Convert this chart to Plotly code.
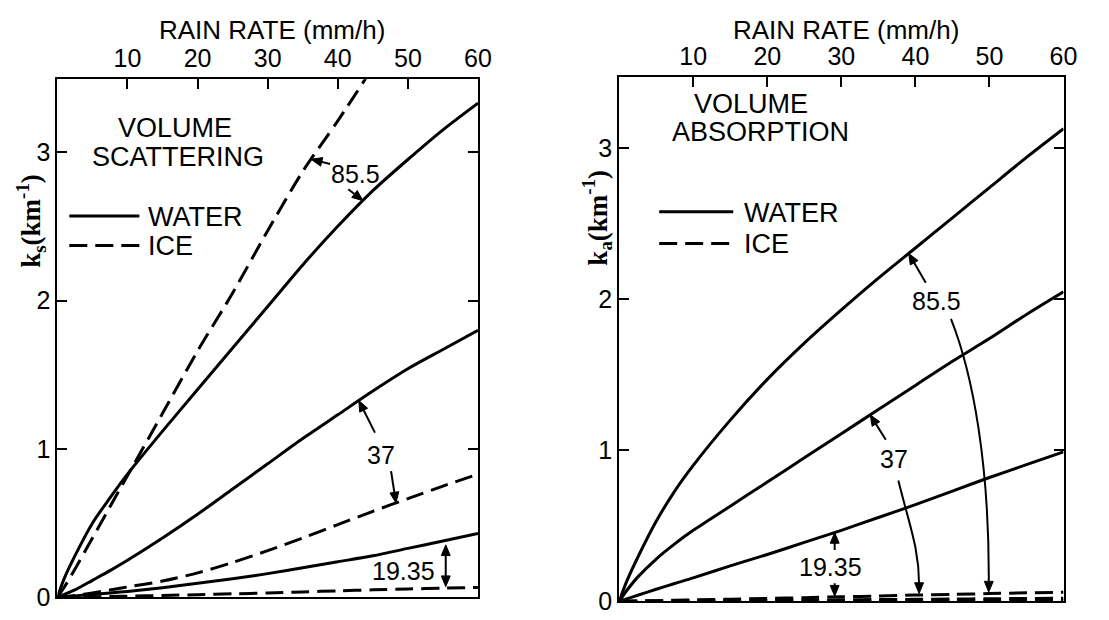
import plotly.graph_objects as go
import numpy as np

# ---------------- data ----------------
rain = [0, 1, 2.5, 5, 7.5, 10, 15, 20, 25, 30, 35, 40, 45, 50, 55, 60]
rain_ice_855 = [0, 1, 2.5, 5, 7.5, 10, 15, 20, 25, 30, 35, 40, 45]

# Volume scattering (km^-1)
sc_water_855 = [0, 0.13, 0.28, 0.50, 0.67, 0.83, 1.12, 1.40, 1.68, 1.96, 2.24, 2.50, 2.74, 2.95, 3.15, 3.33]
sc_ice_855 = [0, 0.07, 0.19, 0.40, 0.61, 0.82, 1.24, 1.66, 2.05, 2.47, 2.87, 3.21, 3.57]
sc_water_37 = [0, 0.02, 0.05, 0.115, 0.18, 0.25, 0.40, 0.56, 0.73, 0.90, 1.07, 1.23, 1.39, 1.54, 1.67, 1.80]
sc_ice_37 = [0, 0.005, 0.013, 0.03, 0.05, 0.07, 0.11, 0.165, 0.235, 0.315, 0.40, 0.49, 0.58, 0.665, 0.75, 0.83]
sc_water_19 = [0, 0.004, 0.01, 0.02, 0.03, 0.04, 0.065, 0.095, 0.125, 0.16, 0.20, 0.24, 0.28, 0.33, 0.38, 0.43]
sc_ice_19 = [0, 0.001, 0.002, 0.004, 0.006, 0.008, 0.013, 0.018, 0.024, 0.03, 0.037, 0.044, 0.051, 0.057, 0.062, 0.067]

# Volume absorption (km^-1)
ab_water_855 = [0, 0.13, 0.29, 0.53, 0.73, 0.90, 1.20, 1.47, 1.71, 1.93, 2.14, 2.34, 2.54, 2.74, 2.94, 3.13]
ab_water_37 = [0, 0.07, 0.16, 0.28, 0.38, 0.47, 0.63, 0.79, 0.95, 1.11, 1.27, 1.43, 1.59, 1.74, 1.90, 2.05]
ab_water_19 = [0, 0.016, 0.04, 0.08, 0.118, 0.155, 0.235, 0.31, 0.39, 0.47, 0.555, 0.64, 0.73, 0.82, 0.905, 0.99]
ab_ice_855 = [0, 0.001, 0.002, 0.004, 0.007, 0.009, 0.014, 0.019, 0.024, 0.03, 0.035, 0.041, 0.046, 0.051, 0.056, 0.06]
ab_ice_37 = [0, 0, 0.001, 0.002, 0.002, 0.003, 0.005, 0.006, 0.008, 0.01, 0.012, 0.013, 0.015, 0.017, 0.019, 0.02]
ab_ice_19 = [0, 0, 0, 0.001, 0.001, 0.001, 0.002, 0.002, 0.003, 0.003, 0.004, 0.004, 0.005, 0.005, 0.006, 0.006]

x_ticks = [10, 20, 30, 40, 50, 60]
y_ticks = [0, 1, 2, 3]
freq_labels = ["85.5", "37", "19.35"]

# ---------------- layout helpers ----------------
W, H = 1109, 620
FONT = "Liberation Sans, Arial, Helvetica, sans-serif"
SERIF = "Liberation Serif, Times New Roman, serif"
LW = 3
DASH = "18px,8px"

X_RANGE = [0, 60]
Y1_RANGE = [0, 3.49]
Y2_RANGE = [0, 3.47]
DOM = {  # pixel boxes of the two plot areas: left, right, top, bottom
    "1": (50, 476, 73, 603),
    "2": (619, 1069, 71, 607),
}


def px(x):
    return x / W


def py(y):
    return 1 - y / H


fig = go.Figure()


def add_line(xs, ys, dashed, xa, ya):
    fig.add_trace(go.Scatter(
        x=xs, y=ys, mode="lines", xaxis=xa, yaxis=ya, showlegend=False,
        line=dict(color="black", width=LW, dash=DASH if dashed else "solid",
                  shape="spline", smoothing=0.8),
        hoverinfo="skip"))


# left panel
add_line(rain, sc_water_855, False, "x", "y")
add_line(rain_ice_855, sc_ice_855, True, "x", "y")
add_line(rain, sc_water_37, False, "x", "y")
add_line(rain, sc_ice_37, True, "x", "y")
add_line(rain, sc_water_19, False, "x", "y")
add_line(rain, sc_ice_19, True, "x", "y")
# right panel
add_line(rain, ab_water_855, False, "x2", "y2")
add_line(rain, ab_water_37, False, "x2", "y2")
add_line(rain, ab_water_19, False, "x2", "y2")
add_line(rain, ab_ice_855, True, "x2", "y2")
add_line(rain, ab_ice_37, True, "x2", "y2")
add_line(rain, ab_ice_19, True, "x2", "y2")

axis_common_x = dict(
    side="top", range=X_RANGE, tickvals=x_ticks, ticks="inside", ticklen=10,
    tickwidth=2, tickcolor="black", showline=True, linewidth=2, linecolor="black",
    mirror=True, showgrid=False, zeroline=False,
    tickfont=dict(family=FONT, size=25, color="black"))
axis_common_y = dict(
    tickvals=y_ticks, ticks="inside", ticklen=10, tickwidth=2, tickcolor="black",
    showline=True, linewidth=2, linecolor="black", mirror="ticks",
    showgrid=False, zeroline=False,
    tickfont=dict(family=FONT, size=25, color="black"))

l1, r1, t1, b1 = DOM["1"]
l2, r2, t2, b2 = DOM["2"]
fig.update_layout(
    width=W, height=H, margin=dict(l=0, r=0, t=0, b=0),
    paper_bgcolor="white", plot_bgcolor="white",
    xaxis=dict(axis_common_x, domain=[px(l1), px(r1)], anchor="y"),
    yaxis=dict(axis_common_y, domain=[py(b1), py(t1)], range=Y1_RANGE, anchor="x"),
    xaxis2=dict(axis_common_x, domain=[px(l2), px(r2)], anchor="y2"),
    yaxis2=dict(axis_common_y, domain=[py(b2), py(t2)], range=Y2_RANGE, anchor="x2"),
)

ann = []
shapes = []


def scale(panel):
    l, r, t, b = DOM[panel]
    yr = Y1_RANGE if panel == "1" else Y2_RANGE
    return (r - l) / (X_RANGE[1] - X_RANGE[0]), (b - t) / (yr[1] - yr[0])


def refs(panel):
    return ("x", "y") if panel == "1" else ("x2", "y2")


def text(x, y, s, size=24, family=FONT, **kw):
    ann.append(dict(x=px(x), y=py(y), xref="paper", yref="paper", text=s,
                    showarrow=False, font=dict(family=family, size=size, color="black"),
                    xanchor=kw.pop("xanchor", "center"), yanchor="middle", **kw))


def dtext(panel, x, y, s, size=25, **kw):
    xa, ya = refs(panel)
    ann.append(dict(x=x, y=y, xref=xa, yref=ya, text=s, showarrow=False,
                    font=dict(family=FONT, size=size, color="black"),
                    xanchor=kw.pop("xanchor", "center"), yanchor="middle", **kw))


def dline(panel, x0, x1, y, dashed):
    xa, ya = refs(panel)
    shapes.append(dict(type="line", xref=xa, yref=ya, x0=x0, x1=x1, y0=y, y1=y,
                       line=dict(color="black", width=LW, dash=DASH if dashed else "solid")))


def head(panel, frm, tip, L=11, hw=4.5):
    """filled triangular arrow head at tip, pointing away from frm"""
    sx, sy = scale(panel)
    xa, ya = refs(panel)
    dx = (tip[0] - frm[0]) * sx
    dy = (tip[1] - frm[1]) * sy
    n = np.hypot(dx, dy)
    ux, uy = dx / n, dy / n
    bx, by = -ux * L, -uy * L
    c1 = (tip[0] + (bx - uy * hw) / sx, tip[1] + (by + ux * hw) / sy)
    c2 = (tip[0] + (bx + uy * hw) / sx, tip[1] + (by - ux * hw) / sy)
    shapes.append(dict(type="path", xref=xa, yref=ya,
                       path="M {:.4f},{:.4f} L {:.4f},{:.4f} L {:.4f},{:.4f} Z".format(
                           tip[0], tip[1], c1[0], c1[1], c2[0], c2[1]),
                       fillcolor="black", line=dict(color="black", width=1)))
    return (tip[0] - ux * (L - 2) / sx, tip[1] - uy * (L - 2) / sy)


def arrow(panel, tail, tip, both=False):
    xa, ya = refs(panel)
    end = head(panel, tail, tip)
    start = head(panel, tip, tail) if both else tail
    shapes.append(dict(type="line", xref=xa, yref=ya, x0=start[0], y0=start[1],
                       x1=end[0], y1=end[1], line=dict(color="black", width=2)))


def curved(panel, p0, p1, p2, p3):
    xa, ya = refs(panel)
    end = head(panel, p2, p3)
    path = "M {},{} C {},{} {},{} {:.4f},{:.4f}".format(
        p0[0], p0[1], p1[0], p1[1], p2[0], p2[1], end[0], end[1])
    shapes.append(dict(type="path", path=path, xref=xa, yref=ya,
                       line=dict(color="black", width=2)))


def on(xs, ys, r):
    return float(np.interp(r, xs, ys))


# axis titles
text(267, 22, "RAIN RATE (mm/h)", size=26)
text(849, 22, "RAIN RATE (mm/h)", size=26)
text(23, 218, "<b>k<sub>s</sub>(km<sup>-1</sup>)</b>", size=27, family=SERIF, textangle=-90)
text(597, 214, "<b>k<sub>a</sub>(km<sup>-1</sup>)</b>", size=27, family=SERIF, textangle=-90)

# panel headings
dtext("1", 16.8, 3.16, "VOLUME", size=27)
dtext("1", 17.2, 2.97, "SCATTERING", size=27)
text(753, 98, "VOLUME", size=27)
text(762, 127, "ABSORPTION", size=27)

# legends
dline("1", 1.7, 11.7, 2.57, False)
dline("1", 1.7, 11.7, 2.37, True)
dtext("1", 12.6, 2.565, "WATER", size=27, xanchor="left")
dtext("1", 12.6, 2.365, "ICE", size=27, xanchor="left")
dline("2", 5.4, 15.4, 2.58, False)
dline("2", 5.4, 15.4, 2.37, True)
dtext("2", 16.6, 2.575, "WATER", size=27, xanchor="left")
dtext("2", 16.6, 2.365, "ICE", size=27, xanchor="left")

# ---- left panel frequency labels ----
dtext("1", 42.5, 2.85, freq_labels[0])
arrow("1", (38.9, 2.92), (36.2, on(rain_ice_855, sc_ice_855, 36.2)))
arrow("1", (41.5, 2.75), (43.6, on(rain, sc_water_855, 43.6)))

dtext("1", 46.1, 0.96, freq_labels[1])
arrow("1", (45.3, 1.11), (43.0, on(rain, sc_water_37, 43.0)))
arrow("1", (47.6, 0.85), (48.3, on(rain, sc_ice_37, 48.3)))

dtext("1", 49.4, 0.18, freq_labels[2])
arrow("1", (55.4, on(rain, sc_ice_19, 55.4) + 0.01),
      (55.4, on(rain, sc_water_19, 55.4) - 0.03), both=True)

# ---- right panel frequency labels ----
dtext("2", 42.8, 1.99, freq_labels[0])
arrow("2", (41.4, 2.11), (39.1, on(rain, ab_water_855, 39.1)))
curved("2", (44.8, 1.87), (47.8, 1.50), (50.0, 0.90), (49.9, on(rain, ab_ice_855, 49.9) + 0.01))

dtext("2", 37.1, 0.94, freq_labels[1])
arrow("2", (36.0, 1.07), (33.9, on(rain, ab_water_37, 33.9)))
curved("2", (37.7, 0.80), (39.2, 0.50), (40.5, 0.35), (40.5, on(rain, ab_ice_855, 40.5) + 0.01))

dtext("2", 28.5, 0.23, freq_labels[2])
arrow("2", (29.1, 0.34), (29.1, on(rain, ab_water_19, 29.1)))
arrow("2", (29.1, 0.12), (29.1, on(rain, ab_ice_855, 29.1) + 0.005))

fig.update_layout(annotations=ann, shapes=shapes)
fig.write_html("out.html")
